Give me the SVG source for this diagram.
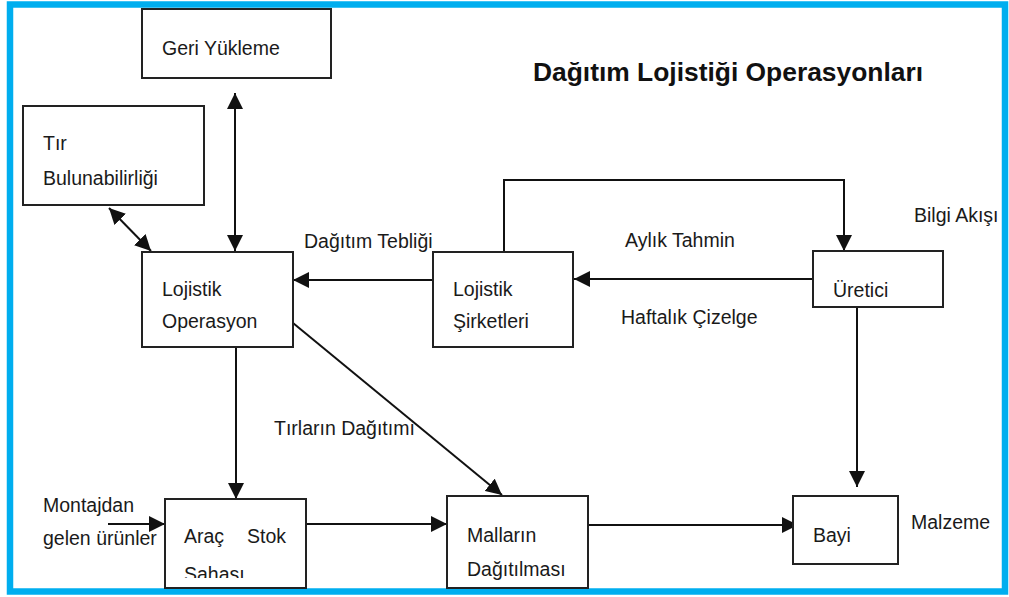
<svg xmlns="http://www.w3.org/2000/svg" width="1009" height="597" viewBox="0 0 1009 597">
<style>
.box{fill:#fff;stroke:#222;stroke-width:2}
.t{font-family:"Liberation Sans",Arial,sans-serif;font-size:19.5px;fill:#1a1a1a}
.title{font-family:"Liberation Sans",Arial,sans-serif;font-size:26.4px;font-weight:bold;fill:#111}
.c{stroke:#111;stroke-width:2;fill:none}
</style>
<defs>
<marker id="ah" markerUnits="userSpaceOnUse" markerWidth="16" markerHeight="16" viewBox="0 0 15 15" refX="15" refY="7.5" orient="auto-start-reverse">
<path d="M0,0 L15,7.5 L0,15 z" fill="#111"/>
</marker>
<clipPath id="clipSaha"><rect x="165" y="499" width="141" height="79"/></clipPath>
</defs>
<rect x="0" y="0" width="1009" height="597" fill="#fff"/>
<rect x="10" y="4.5" width="995" height="587" fill="none" stroke="#00AEEF" stroke-width="6.5"/>

<text class="title" x="533" y="81">Dağıtım Lojistiği Operasyonları</text>

<g id="connectors">
<line class="c" x1="235" y1="93" x2="235" y2="251" marker-start="url(#ah)" marker-end="url(#ah)"/>
<line class="c" x1="109" y1="208" x2="151" y2="251" marker-start="url(#ah)" marker-end="url(#ah)"/>
<line class="c" x1="433" y1="280" x2="293" y2="280" marker-end="url(#ah)"/>
<line class="c" x1="813" y1="279" x2="574" y2="279" marker-end="url(#ah)"/>
<path class="c" d="M504,252 V180 H844 V251" marker-end="url(#ah)"/>
<line class="c" x1="236" y1="347" x2="236" y2="499" marker-end="url(#ah)"/>
<line class="c" x1="293" y1="323" x2="502" y2="495" marker-end="url(#ah)"/>
<line class="c" x1="108" y1="524" x2="165" y2="524" marker-end="url(#ah)"/>
<line class="c" x1="306" y1="524" x2="447" y2="524" marker-end="url(#ah)"/>
<line class="c" x1="588" y1="525" x2="798" y2="525" marker-end="url(#ah)"/>
<line class="c" x1="857" y1="302" x2="857" y2="487" marker-end="url(#ah)"/>
</g>

<g id="geri-yukleme">
<rect class="box" x="142" y="9" width="189" height="69"/>
<text class="t" x="162" y="55">Geri Yükleme</text>
</g>
<g id="tir-bulunabilirligi">
<rect class="box" x="23" y="106" width="181" height="99"/>
<text class="t" x="43" y="150">Tır</text>
<text class="t" x="43" y="185">Bulunabilirliği</text>
</g>
<g id="lojistik-operasyon">
<rect class="box" x="142" y="252" width="151" height="95"/>
<text class="t" x="162" y="296">Lojistik</text>
<text class="t" x="162" y="328">Operasyon</text>
</g>
<g id="lojistik-sirketleri">
<rect class="box" x="433" y="252" width="140" height="95"/>
<text class="t" x="453" y="296">Lojistik</text>
<text class="t" x="453" y="328">Şirketleri</text>
</g>
<g id="uretici">
<rect class="box" x="813" y="251" width="130" height="56"/>
<text class="t" x="833" y="297">Üretici</text>
</g>
<g id="arac-stok-sahasi">
<rect class="box" x="165" y="499" width="141" height="89"/>
<text class="t" x="184" y="543">Araç</text>
<text class="t" x="247" y="543">Stok</text>
<text class="t" x="184" y="581" clip-path="url(#clipSaha)">Sahası</text>
</g>
<g id="mallarin-dagitilmasi">
<rect class="box" x="447" y="496" width="141" height="92"/>
<text class="t" x="467" y="542">Malların</text>
<text class="t" x="467" y="576">Dağıtılması</text>
</g>
<g id="bayi">
<rect class="box" x="793" y="496" width="105" height="68"/>
<text class="t" x="813" y="542">Bayi</text>
</g>

<g id="labels">
<text class="t" x="304" y="248">Dağıtım Tebliği</text>
<text class="t" x="625" y="247">Aylık Tahmin</text>
<text class="t" x="621" y="324">Haftalık Çizelge</text>
<text class="t" x="914" y="222">Bilgi Akışı</text>
<text class="t" x="274" y="435">Tırların Dağıtımı</text>
<text class="t" x="43" y="512">Montajdan</text>
<text class="t" x="43" y="545">gelen ürünler</text>
<text class="t" x="911" y="529">Malzeme</text>
</g>
</svg>
